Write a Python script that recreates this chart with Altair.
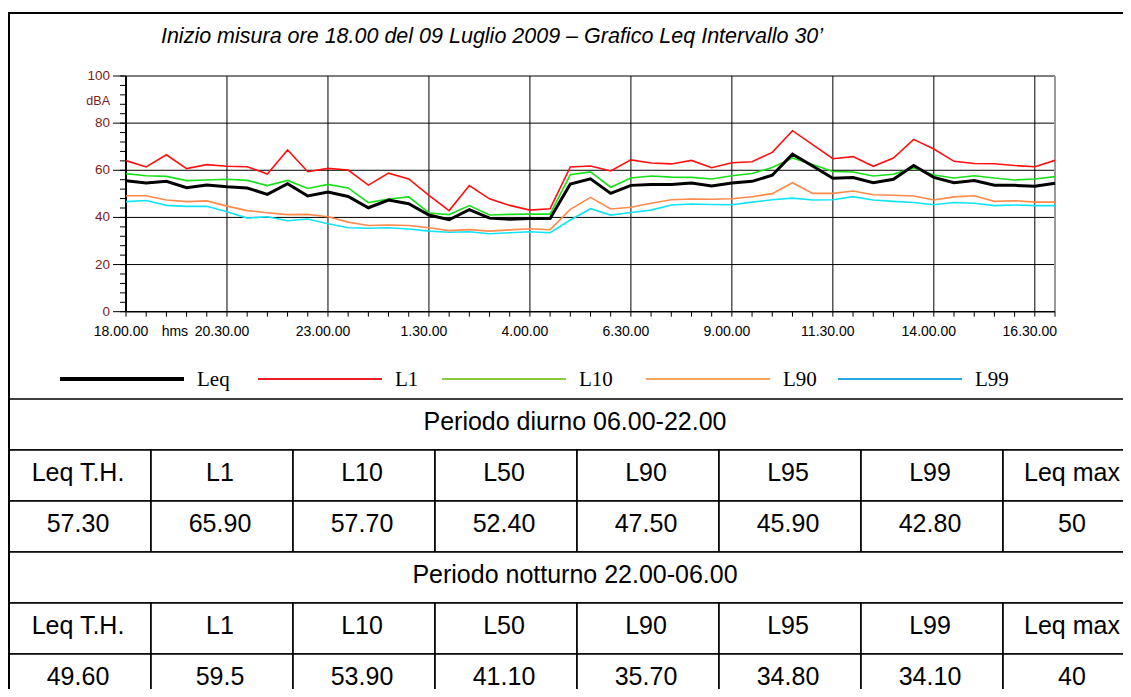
import altair as alt
import pandas as pd

# ---------------- data ----------------
title_text = "Inizio misura ore 18.00 del 09 Luglio 2009 \u2013  Grafico Leq Intervallo 30\u2019"

series_names = ["Leq", "L1", "L10", "L90", "L99"]

leq = [55.6, 54.6, 55.3, 52.6, 53.7, 53.0, 52.5, 49.8, 54.3, 49.1, 50.8, 48.9, 44.1, 47.4, 45.8, 41.0,
       39.0, 43.3, 39.7, 39.2, 39.5, 39.5, 54.2, 56.4, 50.2, 53.6, 54.0, 54.0, 54.6, 53.3, 54.6, 55.3,
       57.9, 66.8, 61.8, 56.6, 56.9, 54.7, 56.2, 62.0, 57.0, 54.7, 55.7, 53.7, 53.6, 53.2, 54.5]
l1 = [64.1, 61.4, 66.6, 60.7, 62.4, 61.7, 61.5, 58.4, 68.6, 59.4, 60.8, 60.1, 53.7, 58.8, 56.3, 49.4,
      42.9, 53.5, 47.9, 45.1, 43.1, 43.7, 61.4, 61.8, 59.7, 64.4, 63.1, 62.7, 64.2, 61.1, 63.2, 63.6,
      67.6, 76.8, 70.9, 64.9, 65.8, 61.7, 65.2, 73.1, 69.0, 63.8, 62.9, 62.8, 62.0, 61.5, 64.2]
l10 = [58.6, 57.7, 57.4, 55.6, 55.9, 56.2, 55.7, 53.5, 55.7, 52.3, 54.0, 52.5, 46.3, 47.8, 48.7, 41.9,
       41.2, 45.0, 41.0, 41.3, 41.4, 41.4, 58.1, 59.3, 52.8, 56.7, 57.6, 57.1, 57.0, 56.3, 57.7, 58.6,
       61.2, 65.2, 62.5, 59.5, 59.3, 57.6, 58.3, 61.0, 58.0, 56.7, 57.7, 56.7, 55.9, 56.3, 57.3]
l90 = [49.2, 49.2, 47.4, 46.7, 47.0, 44.8, 42.9, 42.0, 41.2, 41.3, 40.3, 38.0, 36.6, 36.8, 36.6, 35.6,
       34.4, 34.8, 34.2, 34.7, 35.2, 34.8, 43.4, 48.5, 43.6, 44.3, 46.0, 47.5, 47.8, 47.7, 47.9, 48.8,
       50.1, 54.7, 50.2, 50.2, 51.2, 49.6, 49.4, 49.1, 47.4, 48.7, 49.2, 46.8, 47.1, 46.5, 46.5]
l99 = [46.7, 47.2, 45.1, 44.7, 44.7, 42.4, 39.7, 40.3, 38.6, 39.3, 37.3, 35.6, 35.4, 35.6, 35.1, 34.2,
       33.7, 33.9, 33.1, 33.5, 33.9, 33.5, 38.9, 43.7, 41.0, 42.1, 43.1, 45.3, 45.7, 45.5, 45.4, 46.5,
       47.5, 48.2, 47.4, 47.5, 48.8, 47.4, 46.8, 46.3, 45.4, 46.3, 46.0, 45.0, 45.3, 45.0, 45.0]

# hours elapsed since 18.00 (30-minute intervals)
hours = [i / 2 for i in range(47)]

x_tick_hours = [0, 2.5, 5, 7.5, 10, 12.5, 15, 17.5, 20, 22.5]
x_tick_labels = ["18.00.00", "20.30.00", "23.00.00", "1.30.00", "4.00.00",
                 "6.30.00", "9.00.00", "11.30.00", "14.00.00", "16.30.00"]
x_unit = "hms"
y_major = [0, 20, 40, 60, 80, 100]
y_minor = list(range(0, 101, 4))
y_unit = "dBA"

periods = ["Periodo diurno 06.00-22.00", "Periodo notturno 22.00-06.00"]
headers = ["Leq T.H.", "L1", "L10", "L50", "L90", "L95", "L99", "Leq max"]
day_values = ["57.30", "65.90", "57.70", "52.40", "47.50", "45.90", "42.80", "50"]
night_values = ["49.60", "59.5", "53.90", "41.10", "35.70", "34.80", "34.10", "40"]

# ---------------- styles ----------------
FONT = "Liberation Sans, Arial, Helvetica, sans-serif"
SERIF = "Liberation Serif, Times New Roman, serif"
line_colors = {"Leq": "#000000", "L1": "#FF1010", "L10": "#18E018", "L90": "#FF8A4A", "L99": "#10E4F4"}
line_widths = {"Leq": 3, "L1": 1.6, "L10": 1.6, "L90": 1.6, "L99": 1.6}
legend_colors = ["#000000", "#EE1C25", "#8DC63F", "#F7A35C", "#27AAE1"]
legend_widths = [4, 2, 2, 2, 2]
LABEL_RED = "#7B1C1C"

W, H = 1115, 681
XS = alt.Scale(domain=[0, 23], range=[118, 1047], nice=False, zero=False)
YS = alt.Scale(domain=[0, 100], range=[303.7, 68], nice=False, zero=False)


def X(f):
    return alt.X(f, scale=XS, axis=None)


def Y(f):
    return alt.Y(f, scale=YS, axis=None)


layers = []

# horizontal grid
hgrid = pd.DataFrame({"v": y_major[1:], "a": 0.0, "b": 23.0})
layers.append(alt.Chart(hgrid).mark_rule(color="black", strokeWidth=1).encode(
    x=X("a:Q"), x2="b:Q", y=Y("v:Q")))
# vertical grid
vgrid = pd.DataFrame({"v": x_tick_hours[1:], "a": 0.0, "b": 100.0})
layers.append(alt.Chart(vgrid).mark_rule(color="black", strokeWidth=1).encode(
    x=X("v:Q"), y=Y("a:Q"), y2="b:Q"))
# right edge
redge = pd.DataFrame({"v": [23.0], "a": [0.0], "b": [100.0]})
layers.append(alt.Chart(redge).mark_rule(color="#9a9a9a", strokeWidth=2).encode(
    x=X("v:Q"), y=Y("a:Q"), y2="b:Q"))
# x axis line
xaxis = pd.DataFrame({"v": [0.0], "a": [0.0], "b": [23.0]})
layers.append(alt.Chart(xaxis).mark_rule(color="black", strokeWidth=1.5).encode(
    x=X("a:Q"), x2="b:Q", y=Y("v:Q")))
# y axis line
yaxis = pd.DataFrame({"v": [0.0], "a": [0.0], "b": [100.0]})
layers.append(alt.Chart(yaxis).mark_rule(color="black", strokeWidth=2).encode(
    x=X("v:Q"), y=Y("a:Q"), y2="b:Q"))
# x ticks
xt = pd.DataFrame({"v": hours, "a": 0.0})
layers.append(alt.Chart(xt).mark_rule(color="black", strokeWidth=1, y2Offset=5).encode(
    x=X("v:Q"), y=Y("a:Q"), y2="a:Q"))
# y ticks
ytm = pd.DataFrame({"v": y_minor, "a": 0.0})
layers.append(alt.Chart(ytm).mark_rule(color="black", strokeWidth=1, x2Offset=-6).encode(
    x=X("a:Q"), x2="a:Q", y=Y("v:Q")))
ytM = pd.DataFrame({"v": y_major, "a": 0.0})
layers.append(alt.Chart(ytM).mark_rule(color="black", strokeWidth=1, x2Offset=-13).encode(
    x=X("a:Q"), x2="a:Q", y=Y("v:Q")))
# y labels
ylab = pd.DataFrame({"v": y_major, "a": 0.0, "t": [str(v) for v in y_major]})
layers.append(alt.Chart(ylab).mark_text(font=FONT, fontSize=13.5, color=LABEL_RED, align="right",
                                        baseline="middle", dx=-16).encode(
    x=X("a:Q"), y=Y("v:Q"), text="t:N"))
layers.append(alt.Chart(pd.DataFrame({"t": [y_unit]})).mark_text(
    font=FONT, fontSize=12.5, color=LABEL_RED, align="right", baseline="middle", dx=-16).encode(
    x=alt.X(datum=0, scale=XS, axis=None), y=alt.Y(datum=89.5, scale=YS, axis=None), text="t:N"))
# x labels
xlab = pd.DataFrame({"v": x_tick_hours, "a": 0.0, "t": x_tick_labels})
layers.append(alt.Chart(xlab).mark_text(font=FONT, fontSize=14, color="black", align="center",
                                        baseline="middle", dy=20, dx=-5).encode(
    x=X("v:Q"), y=Y("a:Q"), text="t:N"))
layers.append(alt.Chart(pd.DataFrame({"t": [x_unit]})).mark_text(
    font=FONT, fontSize=14, color="black", align="center", baseline="middle", dy=20).encode(
    x=alt.X(datum=1.21, scale=XS, axis=None), y=alt.Y(datum=0, scale=YS, axis=None), text="t:N"))

# data lines (drawing order: Leq on top)
series_values = {"Leq": leq, "L1": l1, "L10": l10, "L90": l90, "L99": l99}
for name in ["L99", "L90", "L10", "L1", "Leq"]:
    sdf = pd.DataFrame({"h": hours, "v": series_values[name]})
    layers.append(alt.Chart(sdf).mark_line(color=line_colors[name], strokeWidth=line_widths[name]).encode(
        x=X("h:Q"), y=Y("v:Q")))

# legend
LEG = alt.Scale(domain=[0, 1, 2, 3, 4], range=[52, 250, 434, 638, 830], zero=False, nice=False)
leg_df = pd.DataFrame({"i": list(range(5)), "name": series_names, "c": legend_colors, "w": legend_widths})
layers.append(alt.Chart(leg_df).mark_rule(x2Offset=124).encode(
    x=alt.X("i:Q", scale=LEG, axis=None), x2="i:Q", y=alt.value(371),
    color=alt.Color("c:N", scale=None), strokeWidth=alt.StrokeWidth("w:Q", scale=None)))
layers.append(alt.Chart(leg_df).mark_text(font=SERIF, fontSize=21, align="left", baseline="alphabetic",
                                          dx=137, color="black").encode(
    x=alt.X("i:Q", scale=LEG, axis=None), y=alt.value(378), text="name:N"))

# table
cells = []
for r, (period, vals) in enumerate([(periods[0], day_values), (periods[1], night_values)]):
    base = r * 3
    cells.append(dict(x0=0, x1=8, y0=base, y1=base + 1, text=period))
    for c, h in enumerate(headers):
        cells.append(dict(x0=c, x1=c + 1, y0=base + 1, y1=base + 2, text=h))
    for c, v in enumerate(vals):
        cells.append(dict(x0=c, x1=c + 1, y0=base + 2, y1=base + 3, text=v))
tdf = pd.DataFrame(cells)
tdf["xc"] = (tdf["x0"] + tdf["x1"]) / 2
tdf["yc"] = (tdf["y0"] + tdf["y1"]) / 2
TX = alt.Scale(domain=[0, 8], range=[1, 1137], zero=False, nice=False)
TY = alt.Scale(domain=[0, 6], range=[391, 697], zero=False, nice=False)
layers.append(alt.Chart(tdf).mark_rect(fill="white", stroke="black", strokeWidth=1.6).encode(
    x=alt.X("x0:Q", scale=TX, axis=None), x2="x1:Q",
    y=alt.Y("y0:Q", scale=TY, axis=None), y2="y1:Q"))
layers.append(alt.Chart(tdf).mark_text(font=FONT, fontSize=25, color="black", baseline="middle",
                                       align="center", dy=-3, dx=-2).encode(
    x=alt.X("xc:Q", scale=TX, axis=None), y=alt.Y("yc:Q", scale=TY, axis=None), text="text:N"))

# title
layers.append(alt.Chart(pd.DataFrame({"t": [title_text]})).mark_text(
    font=FONT, fontSize=21.5, fontStyle="italic", color="black", align="center", baseline="middle").encode(
    x=alt.value(484), y=alt.value(29), text="t:N"))

# outer border
one = pd.DataFrame({"k": [0]})
layers.append(alt.Chart(one).mark_rule(color="black", strokeWidth=2).encode(
    x=alt.value(0), x2=alt.value(W), y=alt.value(5)))
layers.append(alt.Chart(one).mark_rule(color="black", strokeWidth=2).encode(
    x=alt.value(1), y=alt.value(5), y2=alt.value(H)))

chart = alt.layer(*layers).resolve_scale(x="independent", y="independent").properties(
    width=W, height=H, padding=0, autosize=alt.AutoSizeParams(type="none")
).configure_view(stroke=None)

chart.save("out.html", embed_options={"renderer": "svg", "actions": False})
